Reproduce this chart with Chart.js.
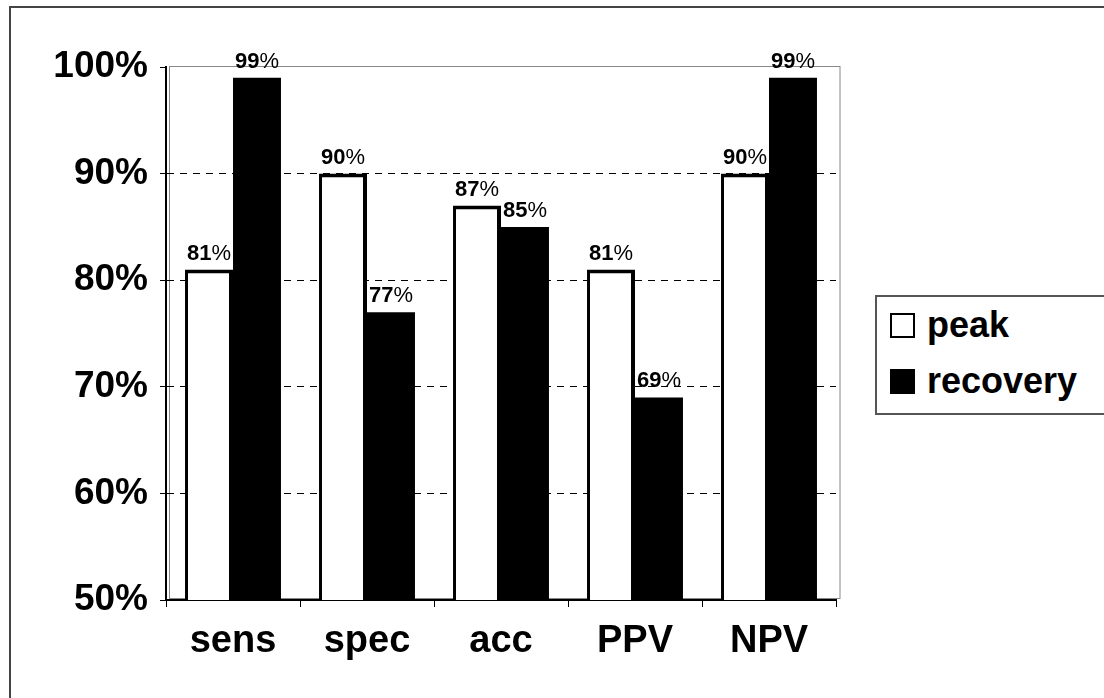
<!DOCTYPE html>
<html lang="en">
<head>
    <meta charset="UTF-8">
    <title>peak vs recovery</title>
    <script src="https://cdn.jsdelivr.net/npm/chart.js"></script>
    <style>
        html, body { margin: 0; padding: 0; background: #fff; overflow: hidden; }
        .page { position: relative; width: 1104px; height: 698px; overflow: hidden; }
        .frame { position: absolute; left: 9px; top: 6px; width: 2000px; height: 2000px; border: 2px solid #444; }
        canvas { position: absolute; left: 0; top: 0; }
        .legend {
            position: absolute; left: 875px; top: 295px; width: 260px; height: 116px;
            border: 2px solid #555; background: #fff;
            font-family: "Liberation Sans", Arial, sans-serif; font-weight: bold; font-size: 36px;
        }
        .legend div { position: absolute; left: 13px; height: 40px; line-height: 40px; }
        .legend span.box { display: inline-block; width: 21px; height: 21px; border: 2px solid #000; margin-right: 12px; vertical-align: -1px; }
    </style>
</head>
<body>
<div class="page">
    <div class="frame"></div>
    <canvas id="chart" width="1104" height="698"></canvas>
    <div class="legend">
        <div style="top: 8px;"><span class="box" style="background:#fff"></span>peak</div>
        <div style="top: 64px;"><span class="box" style="background:#000"></span>recovery</div>
    </div>
</div>

<script>
    // datos
    const categories = ['sens', 'spec', 'acc', 'PPV', 'NPV'];
    const peak = [81, 90, 87, 81, 90];
    const recovery = [99, 77, 85, 69, 99];
    const yTicks = [50, 60, 70, 80, 90, 100];

    const FONT = '"Liberation Sans", Arial, sans-serif';

    // borde gris del area de trazado
    const plotBorder = {
        id: 'plotBorder',
        beforeDraw(chart) {
            const a = chart.chartArea;
            const ctx = chart.ctx;
            ctx.save();
            ctx.strokeStyle = '#888';
            ctx.lineWidth = 1;
            ctx.strokeRect(a.left + 3.5, a.top - 0.5, a.right - a.left + 0.5, a.bottom - a.top - 1);
            ctx.restore();
        }
    };

    // etiquetas de valor: numeros en negrita, % normal
    const valueLabels = {
        id: 'valueLabels',
        afterDatasetsDraw(chart) {
            const ctx = chart.ctx;
            ctx.save();
            ctx.fillStyle = '#000';
            ctx.textBaseline = 'alphabetic';
            chart.data.datasets.forEach((ds, i) => {
                chart.getDatasetMeta(i).data.forEach((bar, j) => {
                    const num = String(ds.data[j]);
                    ctx.font = 'bold 22px ' + FONT;
                    const w1 = ctx.measureText(num).width;
                    ctx.font = '22px ' + FONT;
                    const w2 = ctx.measureText('%').width;
                    const x0 = bar.x - (w1 + w2) / 2;
                    const y = bar.y - 10;
                    ctx.font = 'bold 22px ' + FONT;
                    ctx.fillText(num, x0, y);
                    ctx.font = '22px ' + FONT;
                    ctx.fillText('%', x0 + w1, y);
                });
            });
            ctx.restore();
        }
    };

    new Chart(document.getElementById('chart'), {
        type: 'bar',
        data: {
            labels: categories,
            datasets: [
                {
                    label: 'peak',
                    data: peak,
                    backgroundColor: '#fff',
                    borderColor: '#000',
                    borderWidth: { top: 4, left: 3, right: 4, bottom: 0 },
                    borderSkipped: false
                },
                {
                    label: 'recovery',
                    data: recovery,
                    backgroundColor: '#000',
                    borderWidth: 0
                }
            ]
        },
        options: {
            responsive: false,
            animation: false,
            events: [],
            layout: { padding: { left: 0, top: 67, right: 268, bottom: 0 } },
            datasets: { bar: { categoryPercentage: 0.716, barPercentage: 1.0 } },
            plugins: {
                legend: { display: false },
                tooltip: { enabled: false }
            },
            scales: {
                x: {
                    afterFit(s) { s.height = 98; },
                    border: { display: true, color: '#000', width: 2 },
                    grid: { drawOnChartArea: false, offset: true, tickLength: 7, tickColor: '#000', tickWidth: 1 },
                    ticks: { color: '#000', padding: 12, font: { family: FONT, size: 38, weight: 'bold' } }
                },
                y: {
                    min: 50,
                    max: 100,
                    afterFit(s) { s.width = 166; },
                    afterBuildTicks(s) { s.ticks = yTicks.map(v => ({ value: v })); },
                    border: { display: true, color: '#000', width: 2, dash: [7, 6] },
                    grid: {
                        color: ctx => (ctx.tick && (ctx.tick.value === 50 || ctx.tick.value === 100)) ? 'rgba(0,0,0,0)' : '#000',
                        lineWidth: 1,
                        tickLength: 6,
                        tickColor: '#000',
                        tickBorderDash: [],
                        tickWidth: 1
                    },
                    ticks: {
                        color: '#000',
                        padding: 12,
                        font: { family: FONT, size: 37, weight: 'bold' },
                        callback: v => v + '%'
                    }
                }
            }
        },
        plugins: [plotBorder, valueLabels]
    });
</script>
</body>
</html>
